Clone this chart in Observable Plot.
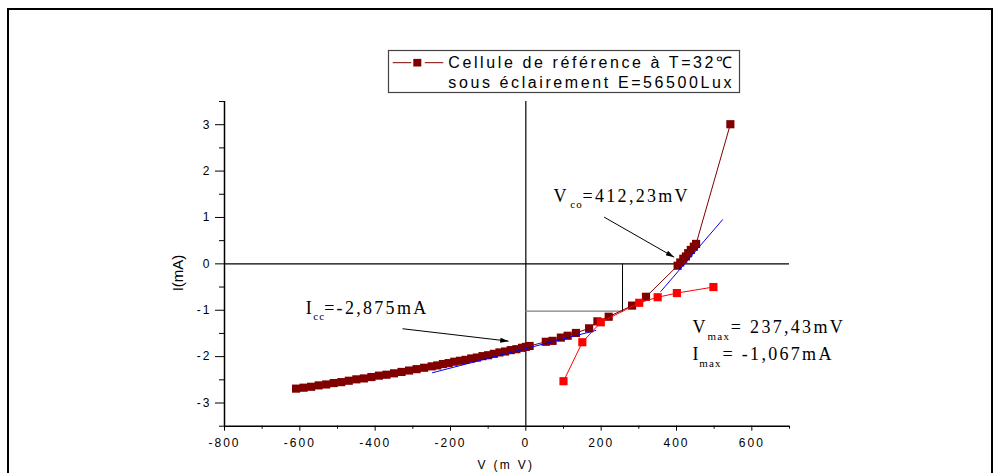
<!DOCTYPE html>
<html>
<head>
<meta charset="utf-8">
<script src="https://cdn.jsdelivr.net/npm/d3@7"></script>
<script src="https://cdn.jsdelivr.net/npm/@observablehq/plot@0.6"></script>
<style>
  html, body { margin:0; padding:0; background:#fff; }
  #wrap { position:relative; width:995px; height:473px; overflow:hidden; background:#fff; }
  #wrap svg { position:absolute; left:0; top:0; }
  #frame { position:absolute; left:7px; top:8px; width:982px; height:490px; border:2px solid #000; pointer-events:none; }
  g[aria-label="x-axis tick label"] text, g[aria-label="y-axis tick label"] text { letter-spacing: 2px; }
</style>
</head>
<body>
<div id="wrap"><div id="frame"></div></div>
<script>
// ---- data ----
const xMajor = [-800, -600, -400, -200, 0, 200, 400, 600];
const xMinor = [-700, -500, -300, -100, 100, 300, 500, 700];
const yMajor = [-3, -2, -1, 0, 1, 2, 3];
const yMinor = [-3.5, -2.5, -1.5, -0.5, 0.5, 1.5, 2.5, 3.5];

// reference cell (dark red)
const refV = [-610,-590,-570,-550,-530,-510,-490,-470,-450,-430,-410,-390,-370,-350,-330,-310,-290,-270,-250,
  -235,-220,-205,-190,-175,-160,-145,-130,-115,-100,-85,-70,-55,-40,-25,-10,0,
  10,53,71,93,111,133,168,190,220,282,319,403,410,418,425,431,438,446,452,543];
const refI = [-2.69,-2.67,-2.65,-2.62,-2.60,-2.57,-2.55,-2.52,-2.49,-2.47,-2.44,-2.41,-2.39,-2.36,-2.33,-2.30,-2.27,-2.24,-2.21,
  -2.19,-2.16,-2.14,-2.11,-2.09,-2.07,-2.04,-2.02,-1.99,-1.97,-1.94,-1.91,-1.89,-1.86,-1.84,-1.81,-1.79,
  -1.77,-1.68,-1.66,-1.59,-1.55,-1.49,-1.39,-1.24,-1.14,-0.90,-0.71,-0.04,0.03,0.11,0.16,0.23,0.30,0.37,0.43,3.01];

// second (red) series
const lowV = [100, 150, 199, 301, 350, 401, 498];
const lowI = [-2.53, -1.69, -1.26, -0.84, -0.72, -0.63, -0.50];

// linear fits (blue)
const fitLowV = [-247.7, 185.8];
const fitLowI = [-2.347, -1.436];
const fitHighV = [358.4, 522.2];
const fitHighI = [-0.595, 0.951];

// max power rectangle
const vmpMark = 256.7;
const impMark = -1.02;

// annotation arrows (tail -> head)
const arrowX1 = [207.9, -327.3];
const arrowY1 = [1.007, -1.399];
const arrowX2 = [393.7, -45.9];
const arrowY2 = [0.144, -1.666];

// annotation texts
const annMain = ["V", "I", "V", "I"];
const annSub = ["co", "cc", "max", "max"];
const annRest = ["=412,23mV", "=-2,875mA", "= 237,43mV", "= -1,067mA"];
const annX = [73.6, -584, 442.6, 442.6];
const annY = [1.33, -1.076, -1.494, -2.08];

const legendLines = ["Cellule de référence à T=32\u2103", "sous éclairement E=56500Lux"];
const xLabel = "V (m V)";
const yLabel = "I(mA)";

// ---- build ----
const pts = refV.map((v, k) => ({v, i: refI[k]}));
const low = lowV.map((v, k) => ({v, i: lowI[k]}));
const fitLow = fitLowV.map((v, k) => ({v, i: fitLowI[k]}));
const fitHigh = fitHighV.map((v, k) => ({v, i: fitHighI[k]}));
const mpH = [{v: 0, i: impMark}, {v: vmpMark, i: impMark}];
const mpV = [{v: vmpMark, i: 0}, {v: vmpMark, i: impMark}];
const arrows = arrowX1.map((x1, k) => ({x1, y1: arrowY1[k], x2: arrowX2[k], y2: arrowY2[k]}));

const subOff = [[16.6, 6, 29], [7.3, 6.7, 18.3], [15, 7.3, 38.3], [6.6, 7, 30]];

const serif = "'Liberation Serif','Times New Roman',serif";
const sans = "'Liberation Sans',Arial,sans-serif";

const annMarks = annMain.flatMap((m, k) => {
  const d = [{x: annX[k], y: annY[k], main: m, sub: annSub[k], rest: annRest[k]}];
  const [sdx, sdy, rdx] = subOff[k];
  const base = {x: "x", y: "y", textAnchor: "start", lineAnchor: "bottom", fontFamily: serif, fill: "#000"};
  return [
    Plot.text(d, {...base, text: "main", fontSize: 18}),
    Plot.text(d, {...base, text: "sub", fontSize: 11, dx: sdx, dy: sdy}),
    Plot.text(d, {...base, text: "rest", fontSize: 18, dx: rdx})
  ];
});

const svg = Plot.plot({
  width: 995,
  height: 473,
  marginTop: 101,
  marginRight: 206,
  marginBottom: 47.3,
  marginLeft: 224,
  x: {domain: [-800, 700]},
  y: {domain: [-3.5, 3.5]},
  style: {fontFamily: sans, fontSize: "12px", color: "#000", background: "#fff", overflow: "visible"},
  marks: [
    Plot.axisX({ticks: xMinor, tickSize: 3, tickFormat: () => "", label: null}),
    Plot.axisX({ticks: xMajor, tickSize: 5, tickPadding: 7, tickFormat: d => String(d), label: null}),
    Plot.axisY({ticks: yMinor, tickSize: 5, tickFormat: () => "", label: null}),
    Plot.axisY({ticks: yMajor, tickSize: 9, tickPadding: 4, tickFormat: d => String(d), label: null}),
    Plot.ruleX([-800], {stroke: "#000", strokeWidth: 1.5}),
    Plot.ruleY([-3.5], {stroke: "#000", strokeWidth: 1.5}),
    Plot.ruleY([0], {stroke: "#000", strokeWidth: 1.2}),
    Plot.ruleX([0], {stroke: "#000", strokeWidth: 1.2}),
    Plot.line(mpH, {x: "v", y: "i", stroke: "#808080", strokeWidth: 1.3}),
    Plot.line(mpV, {x: "v", y: "i", stroke: "#000", strokeWidth: 1}),
    Plot.line(pts, {x: "v", y: "i", stroke: "#800000", strokeWidth: 1}),
    Plot.dot(pts, {x: "v", y: "i", symbol: "square", r: 4.6, fill: "#800000"}),
    Plot.line(low, {x: "v", y: "i", stroke: "#ff0000", strokeWidth: 1}),
    Plot.dot(low, {x: "v", y: "i", symbol: "square", r: 4.6, fill: "#ff0000"}),
    Plot.line(fitLow, {x: "v", y: "i", stroke: "#0000ff", strokeWidth: 1}),
    Plot.line(fitHigh, {x: "v", y: "i", stroke: "#0000ff", strokeWidth: 1}),
    Plot.link(arrows, {x1: "x1", y1: "y1", x2: "x2", y2: "y2", stroke: "#000", strokeWidth: 1}),
    ...annMarks
  ]
});

const wrap = document.getElementById("wrap");
wrap.insertBefore(svg, document.getElementById("frame"));

const s = d3.select(svg);
// filled arrowheads
const defs = s.append("defs");
defs.append("marker")
  .attr("id", "ahead").attr("viewBox", "0 0 10 6").attr("refX", 10).attr("refY", 3)
  .attr("markerWidth", 10).attr("markerHeight", 5).attr("markerUnits", "userSpaceOnUse").attr("orient", "auto")
  .append("path").attr("d", "M0,0L10,3L0,6Z").attr("fill", "#000");
s.selectAll('g[aria-label="link"] path').attr("marker-end", "url(#ahead)");

// letter spacing of annotation texts
s.selectAll('g[aria-label="text"]').each(function () {
  const fs = +this.getAttribute("font-size");
  this.style.letterSpacing = fs > 14 ? "2.3px" : "1.2px";
});

// axis titles
s.append("text")
  .attr("transform", "translate(183.3,273) rotate(-90)")
  .attr("text-anchor", "middle").attr("font-size", 15).attr("font-family", sans).attr("fill", "#000")
  .text(yLabel);
s.append("text")
  .attr("x", 506).attr("y", 468.5)
  .attr("text-anchor", "middle").attr("font-size", 12).attr("font-family", sans).attr("fill", "#000")
  .style("letter-spacing", "2.3px")
  .text(xLabel);

// legend
const lg = s.append("g").attr("text-anchor", "start");
lg.append("rect").attr("x", 388.5).attr("y", 50.5).attr("width", 351).attr("height", 42)
  .attr("fill", "#fff").attr("stroke", "#444").attr("stroke-width", 1.2);
[[392.7, 411.3], [424.8, 443.3]].forEach(([a, b]) => {
  lg.append("line").attr("x1", a).attr("x2", b).attr("y1", 62.7).attr("y2", 62.7)
    .attr("stroke", "#800000").attr("stroke-width", 1);
});
lg.append("rect").attr("x", 413.3).attr("y", 58.9).attr("width", 8).attr("height", 7.6).attr("fill", "#800000");
legendLines.forEach((t, k) => {
  lg.append("text").attr("x", 448.3).attr("y", 68.3 + 20 * k)
    .attr("text-anchor", "start")
    .attr("font-size", 16).attr("font-family", sans).attr("fill", "#000")
    .style("letter-spacing", "2.6px")
    .text(t);
});
</script>
</body>
</html>
